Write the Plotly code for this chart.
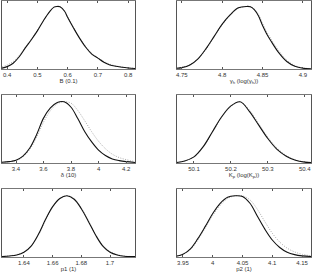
import plotly.graph_objects as go

# ---------------- data ----------------
B_x = [0.383, 0.40, 0.42, 0.44, 0.46, 0.48, 0.50, 0.52, 0.54, 0.555, 0.565, 0.575, 0.59, 0.60, 0.62, 0.64, 0.66, 0.68, 0.70, 0.72, 0.74, 0.76, 0.78, 0.80, 0.823]
B_solid = [0.012, 0.035, 0.085, 0.18, 0.31, 0.43, 0.56, 0.71, 0.84, 0.91, 0.92, 0.915, 0.85, 0.76, 0.60, 0.45, 0.32, 0.22, 0.16, 0.10, 0.06, 0.04, 0.025, 0.015, 0.008]
B_dot = [0.03, 0.06, 0.11, 0.20, 0.32, 0.44, 0.57, 0.71, 0.84, 0.91, 0.92, 0.915, 0.86, 0.77, 0.61, 0.46, 0.33, 0.23, 0.165, 0.11, 0.07, 0.045, 0.03, 0.018, 0.01]

G_x = [4.744, 4.75, 4.76, 4.77, 4.78, 4.79, 4.80, 4.81, 4.82, 4.83, 4.835, 4.84, 4.845, 4.85, 4.855, 4.86, 4.87, 4.88, 4.89, 4.90, 4.91]
G_solid = [0.01, 0.02, 0.06, 0.15, 0.30, 0.48, 0.66, 0.80, 0.90, 0.92, 0.915, 0.87, 0.78, 0.64, 0.52, 0.42, 0.24, 0.11, 0.04, 0.012, 0.004]
G_dot = [0.012, 0.025, 0.065, 0.15, 0.29, 0.47, 0.65, 0.79, 0.89, 0.92, 0.915, 0.88, 0.80, 0.67, 0.55, 0.45, 0.27, 0.13, 0.05, 0.016, 0.006]

D_x = [3.298, 3.35, 3.40, 3.45, 3.50, 3.55, 3.60, 3.65, 3.70, 3.75, 3.80, 3.85, 3.90, 3.95, 4.00, 4.05, 4.10, 4.15, 4.20, 4.265]
D_solid = [0.01, 0.02, 0.04, 0.10, 0.22, 0.42, 0.66, 0.81, 0.89, 0.90, 0.82, 0.65, 0.46, 0.31, 0.19, 0.11, 0.06, 0.035, 0.02, 0.008]
D_dot = [0.01, 0.02, 0.04, 0.09, 0.20, 0.38, 0.60, 0.77, 0.87, 0.90, 0.88, 0.77, 0.62, 0.46, 0.32, 0.21, 0.13, 0.08, 0.05, 0.02]

K_x = [50.054, 50.075, 50.10, 50.125, 50.15, 50.175, 50.20, 50.225, 50.25, 50.275, 50.30, 50.325, 50.35, 50.375, 50.40, 50.417]
K_solid = [0.008, 0.03, 0.09, 0.24, 0.46, 0.68, 0.84, 0.90, 0.76, 0.56, 0.36, 0.20, 0.10, 0.04, 0.013, 0.005]
K_dot = [0.01, 0.032, 0.09, 0.23, 0.45, 0.67, 0.83, 0.90, 0.78, 0.58, 0.38, 0.22, 0.11, 0.045, 0.016, 0.006]

P1_x = [1.6247, 1.63, 1.635, 1.64, 1.645, 1.65, 1.655, 1.66, 1.665, 1.67, 1.675, 1.68, 1.685, 1.69, 1.695, 1.70, 1.705, 1.71, 1.7174]
P1_solid = [0.006, 0.015, 0.03, 0.07, 0.16, 0.33, 0.55, 0.74, 0.86, 0.90, 0.85, 0.71, 0.52, 0.32, 0.16, 0.07, 0.03, 0.012, 0.005]
P1_dot = [0.008, 0.018, 0.035, 0.075, 0.16, 0.32, 0.54, 0.73, 0.86, 0.90, 0.86, 0.72, 0.53, 0.33, 0.17, 0.08, 0.035, 0.014, 0.006]

P2_x = [3.94, 3.95, 3.9625, 3.975, 3.9875, 4.0, 4.0125, 4.025, 4.0375, 4.05, 4.0625, 4.075, 4.0875, 4.1, 4.1125, 4.125, 4.1375, 4.15, 4.165]
P2_solid = [0.015, 0.04, 0.12, 0.27, 0.45, 0.64, 0.79, 0.88, 0.90, 0.89, 0.79, 0.60, 0.41, 0.25, 0.14, 0.07, 0.035, 0.017, 0.007]
P2_dot = [0.015, 0.04, 0.11, 0.25, 0.43, 0.61, 0.76, 0.86, 0.90, 0.90, 0.84, 0.70, 0.52, 0.35, 0.22, 0.13, 0.075, 0.04, 0.018]

x_ranges = [[0.383, 0.823], [4.744, 4.91], [3.298, 4.265], [50.054, 50.417], [1.6247, 1.7174], [3.94, 4.165]]
tick_vals = [[0.4, 0.5, 0.6, 0.7, 0.8], [4.75, 4.8, 4.85, 4.9], [3.4, 3.6, 3.8, 4.0, 4.2],
             [50.1, 50.2, 50.3, 50.4], [1.64, 1.66, 1.68, 1.7], [3.95, 4.0, 4.05, 4.1, 4.15]]
tick_text = [["0.4", "0.5", "0.6", "0.7", "0.8"], ["4.75", "4.8", "4.85", "4.9"], ["3.4", "3.6", "3.8", "4", "4.2"],
             ["50.1", "50.2", "50.3", "50.4"], ["1.64", "1.66", "1.68", "1.7"], ["3.95", "4", "4.05", "4.1", "4.15"]]
x_titles = ["B (0.1)", "γ<sub>h</sub> (log(γ<sub>h</sub>))", "δ (10)",
            "K<sub>p</sub> (log(K<sub>p</sub>))", "p1 (1)", "p2 (1)"]

panels = [(B_x, B_solid, B_dot), (G_x, G_solid, G_dot), (D_x, D_solid, D_dot),
          (K_x, K_solid, K_dot), (P1_x, P1_solid, P1_dot), (P2_x, P2_solid, P2_dot)]

# ---------------- layout ----------------
W, H = 316, 273
col_px = [(2, 135), (177, 311)]
row_px = [(1, 69), (95, 163), (189, 257)]

fig = go.Figure()
layout = dict(width=W, height=H, margin=dict(l=0, r=0, t=0, b=0, autoexpand=False),
              paper_bgcolor="white", plot_bgcolor="white", showlegend=False,
              font=dict(family="Liberation Sans, Arial, sans-serif", size=6, color="#222"))

for i, (xs, ys, yd) in enumerate(panels):
    r, c = divmod(i, 2)
    n = i + 1
    xa = "x" if n == 1 else f"x{n}"
    ya = "y" if n == 1 else f"y{n}"
    fig.add_trace(go.Scatter(x=xs, y=yd, mode="lines", xaxis=xa, yaxis=ya,
                             line=dict(color="#aaaaaa", width=1, dash="1px,1.5px", shape="spline")))
    fig.add_trace(go.Scatter(x=xs, y=ys, mode="lines", xaxis=xa, yaxis=ya,
                             line=dict(color="#111111", width=1.1, shape="spline")))
    x0, x1 = col_px[c]
    y0, y1 = row_px[r]
    layout["xaxis" if n == 1 else f"xaxis{n}"] = dict(
        domain=[x0 / W, x1 / W], anchor=ya, range=x_ranges[i],
        tickmode="array", tickvals=tick_vals[i], ticktext=tick_text[i],
        ticks="inside", ticklen=2, tickcolor="#555", mirror="ticks",
        showline=True, linecolor="#777", linewidth=1, showgrid=False, zeroline=False,
        automargin=False, ticklabeloverflow="allow",
        tickfont=dict(size=6, color="#333"),
        title=dict(text=x_titles[i], font=dict(size=6, color="#333"), standoff=1))
    layout["yaxis" if n == 1 else f"yaxis{n}"] = dict(
        domain=[(H - y1) / H, (H - y0) / H], anchor=xa, range=[0, 1.0],
        showticklabels=False, ticks="", mirror=True, showline=True, automargin=False,
        linecolor="#555", linewidth=1, showgrid=False, zeroline=False)

fig.update_layout(**layout)
fig.write_html("out.html", config={"displayModeBar": False},
               post_script="document.body.style.margin='0';document.body.style.padding='0';")
